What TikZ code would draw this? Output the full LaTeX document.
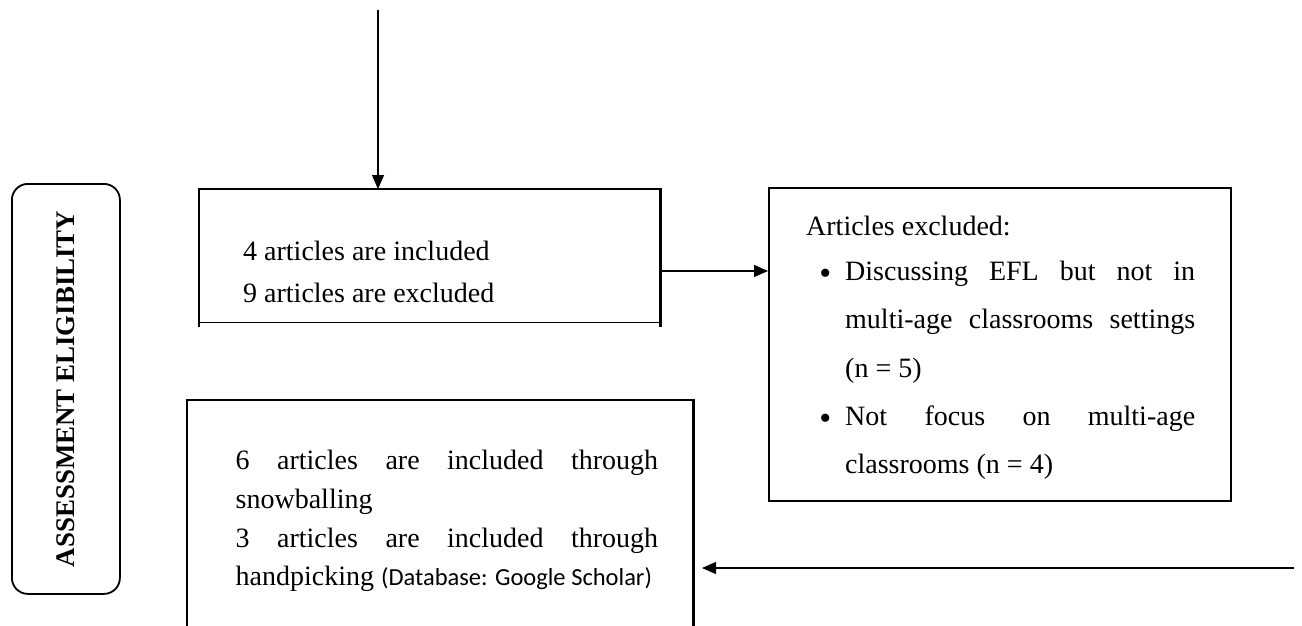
\documentclass[tikz,border=0pt]{standalone}
\usepackage{fontspec}
\setmainfont{Liberation Serif}
\newfontfamily\calib{Carlito}
\usetikzlibrary{arrows.meta}
\newcommand{\bulletmark}{\llap{\raisebox{-4pt}{\fontsize{34}{34}\selectfont\textbullet}\hspace{14pt}}}
\begin{document}
\begin{tikzpicture}[x=1pt,y=-1pt,
  box/.style={draw,line width=2.2pt,inner sep=0pt,anchor=north west},
  frame/.style={inner sep=0pt,anchor=north west},
  conn/.style={line width=1.2pt,-{Triangle[length=14pt,width=12pt]}},
  txt/.style={anchor=base west,inner sep=0pt,font=\fontsize{28}{34}\selectfont}]
\useasboundingbox (0,0) rectangle (1302,626);
\clip (0,0) rectangle (1302,626);
% left label
\node[draw,line width=1.8pt,rounded corners=16pt,minimum width=108pt,minimum height=410pt,anchor=north west] (lb) at (11,183) {};
\node[rotate=90,inner sep=0pt,font=\bfseries\fontsize{26.9}{30}\selectfont] (lbt) at (lb.center) {ASSESSMENT ELIGIBILITY};
% box 1 (custom outline)
\node[frame,minimum width=461pt,minimum height=133pt] (b1) at (199,189) {};
\draw[line width=2.2pt] ([yshift=-5pt]b1.south west) -- (b1.north west) -- (b1.north east) -- ([yshift=-5pt]b1.south east);
\draw[line width=1.2pt] (b1.south west) -- (b1.south east);
\node[txt] (t1a) at (243,260) {4 articles are included};
\node[txt] (t1b) at (243,302) {9 articles are excluded};
% box 2
\node[box,minimum width=462pt,minimum height=313pt] (b2) at (768,187) {};
\node[txt] (t2a) at (806,235) {Articles excluded:};
\node[txt] (t2b) at (845,280) {\hbox to 350pt{\bulletmark Discussing\hfill EFL\hfill but\hfill not\hfill in}};
\node[txt] (t2c) at (845,328) {\hbox to 350pt{multi-age\hfill classrooms\hfill settings}};
\node[txt] (t2d) at (845,377) {(n = 5)};
\node[txt] (t2e) at (845,425) {\hbox to 350pt{\bulletmark Not\hfill focus\hfill on\hfill multi-age}};
\node[txt] (t2f) at (845,473) {classrooms (n = 4)};
% box 3 (open at the bottom, cut by the page)
\node[frame,minimum width=506pt,minimum height=260pt] (b3) at (187,400) {};
\draw[line width=2.2pt] (b3.south west) -- (b3.north west) -- (b3.north east) -- (b3.south east);
\node[txt] (t3a) at (235.5,469) {\hbox to 422.5pt{6\hfill articles\hfill are\hfill included\hfill through}};
\node[txt] (t3b) at (235.5,508) {snowballing};
\node[txt] (t3c) at (235.5,547) {\hbox to 422.5pt{3\hfill articles\hfill are\hfill included\hfill through}};
\node[txt] (t3d) at (235.5,585) {handpicking {\calib\fontsize{24.5}{30}\selectfont (Database: Google Scholar)}};
% connectors
\coordinate (topin) at (378,10);
\coordinate (rightin) at (1294,568);
\coordinate (b3tip) at (702,568);
\draw[conn] (topin) -- (topin |- b1.north);
\draw[conn] (b1.east |- 0,271) -- (b2.west |- 0,271);
\draw[conn] (rightin) -- (b3tip);
\end{tikzpicture}
\end{document}
